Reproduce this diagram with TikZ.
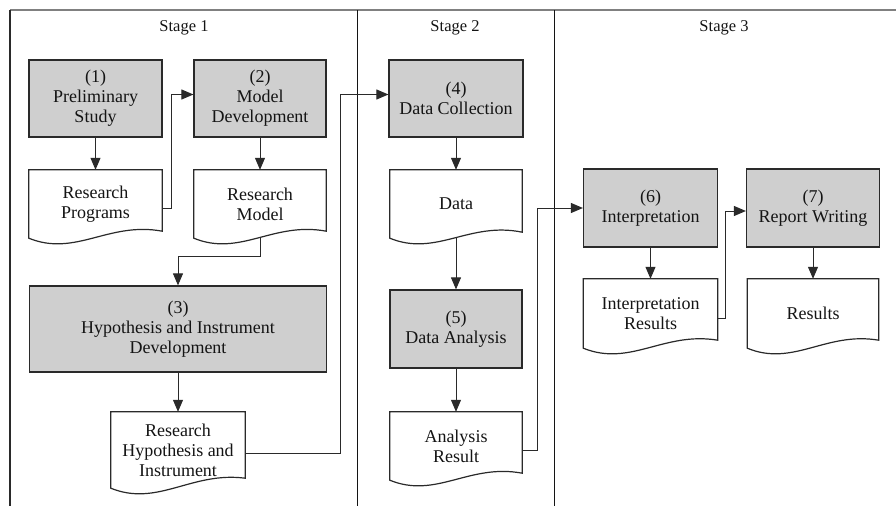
\documentclass[tikz,border=0pt]{standalone}
\usepackage{fontspec}
\setmainfont{Liberation Serif}
\usetikzlibrary{arrows.meta,calc}
\definecolor{boxfill}{HTML}{CFCFCF}
\definecolor{edge}{HTML}{2A2A2A}
\definecolor{ink}{HTML}{141414}
\definecolor{topgray}{HTML}{808080}
\tikzset{
 proc/.style={draw=edge, line width=1.2pt, fill=boxfill, align=center, inner sep=0pt, text=ink, font=\fontsize{18}{20}\selectfont},
 docbox/.style={inner sep=0pt, align=center, text=ink, font=\fontsize{18}{20}\selectfont},
 docline/.style={draw=edge, line width=1.2pt, line join=miter},
 conn/.style={draw=edge, line width=1pt, -{Triangle[length=12pt,width=10pt]}},
 stagetitle/.style={text=ink, font=\fontsize{16.5}{19}\selectfont, inner sep=0pt},
 topline/.style={draw=topgray, line width=1.5pt},
 sideline/.style={draw=edge, line width=1.3pt},
 divline/.style={draw=ink, line width=1pt}
}
\newcommand\drawdoc[2]{%
 \draw[docline] (#1.south west) -- (#1.north west) -- (#1.north east) -- ([yshift=#2pt]#1.south east) .. controls ($(#1.south west)!0.6!(#1.south east)+(0,-17)$) and ($(#1.south west)!0.35!(#1.south east)+(0,19)$) .. (#1.south west) -- cycle;}
\begin{document}
\begin{tikzpicture}[x=1pt,y=-1pt]
\useasboundingbox (0,0) rectangle (896,506);
% frame
\coordinate (tl) at (10,10);
\coordinate (tr) at (896,10);
\coordinate (bl) at (10,506);
\draw[topline] (tl) -- (tr);
\draw[sideline] (tl) -- (bl);
\draw[divline] (357,10) -- (357,506);
\draw[divline] (554,10) -- (554,506);
% titles
\node[stagetitle] (s1) at (184,28) {Stage 1};
\node[stagetitle] (s2) at (455,28) {Stage 2};
\node[stagetitle] (s3) at (724,28) {Stage 3};
% stage 1
\node[proc, minimum width=133, minimum height=77] (p1) at (95.5,98.5) {(1)\\Preliminary\\Study};
\node[proc, minimum width=132, minimum height=77] (p2) at (260,98.5) {(2)\\Model\\Development};
\node[docbox, minimum width=133, minimum height=68] (rp) at (95.5,204) {Research\\Programs};
\node[docbox, minimum width=132, minimum height=68] (rm) at (260,204) {Research\\Model};
\node[proc, minimum width=297, minimum height=86] (p3) at (178,329) {(3)\\Hypothesis and Instrument\\Development};
\node[docbox, minimum width=134, minimum height=76] (rhi) at (178,450) {Research\\Hypothesis and\\Instrument};
% stage 2
\node[proc, minimum width=134, minimum height=77] (p4) at (456,98.5) {(4)\\Data Collection};
\node[docbox, minimum width=132, minimum height=68] (data) at (456,204) {Data};
\node[proc, minimum width=132, minimum height=78] (p5) at (456,329) {(5)\\Data Analysis};
\node[docbox, minimum width=132, minimum height=68] (ar) at (456,446) {Analysis\\Result};
% stage 3
\node[proc, minimum width=134, minimum height=78] (p6) at (650.5,208) {(6)\\Interpretation};
\node[proc, minimum width=133, minimum height=78] (p7) at (813,208) {(7)\\Report Writing};
\node[docbox, minimum width=134, minimum height=69] (ir) at (650.5,313.5) {Interpretation\\Results};
\node[docbox, minimum width=131, minimum height=69] (res) at (813,313.5) {Results};
% document outlines
\drawdoc{rp}{7}
\drawdoc{rm}{7}
\drawdoc{rhi}{10}
\drawdoc{data}{6}
\drawdoc{ar}{7}
\drawdoc{ir}{8}
\drawdoc{res}{8}
% connectors
\draw[conn] (p1.south) -- (rp.north);
\draw[conn] ([yshift=-4pt]rp.east) -- ++(9,0) |- ([yshift=4pt]p2.west);
\draw[conn] (p2.south) -- (rm.north);
\draw[conn] (rm.south) -- ++(0,18) -| (p3.north);
\draw[conn] (p3.south) -- (rhi.north);
\draw[conn] ([yshift=-3pt]rhi.east) -- ++(95,0) |- ([yshift=4pt]p4.west);
\draw[conn] (p4.south) -- (data.north);
\draw[conn] (data.south) -- (p5.north);
\draw[conn] (p5.south) -- (ar.north);
\draw[conn] ([yshift=-4pt]ar.east) -- ++(15,0) |- (p6.west);
\draw[conn] (p6.south) -- (ir.north);
\draw[conn] ([yshift=-4.5pt]ir.east) -- ++(8,0) |- ([yshift=-3pt]p7.west);
\draw[conn] (p7.south) -- (res.north);
\end{tikzpicture}
\end{document}
